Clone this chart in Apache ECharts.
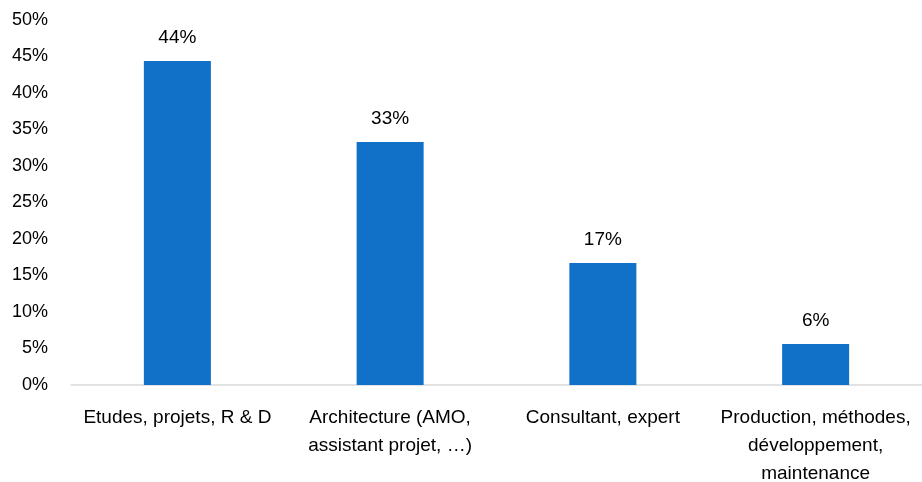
<!DOCTYPE html>
<html>
<head>
<meta charset="utf-8">
<script src="https://cdn.jsdelivr.net/npm/echarts@6/dist/echarts.min.js"></script>
<style>
  html, body { margin: 0; padding: 0; background: #fff; }
  #chart { width: 922px; height: 482px; }
</style>
</head>
<body>
<div id="chart"></div>
<script>
// données
var categories = [
    'Etudes, projets, R & D',
    'Architecture (AMO,\nassistant projet, …)',
    'Consultant, expert',
    'Production, méthodes,\ndéveloppement,\nmaintenance'
];
var values = [44.4, 33.3, 16.7, 5.6];
var yTicks = [0, 5, 10, 15, 20, 25, 30, 35, 40, 45, 50];

var font = 'Liberation Sans, Arial, sans-serif';
var myChart = echarts.init(document.getElementById('chart'));

myChart.setOption({
    animation: false,
    grid: { left: 71, right: 0, top: 20, bottom: 97, containLabel: false, outerBoundsMode: 'none' },
    xAxis: {
        type: 'category',
        data: categories,
        axisTick: { show: false },
        axisLine: { lineStyle: { color: '#d9d9d9', width: 1.5 } },
        axisLabel: {
            interval: 0,
            color: '#000',
            fontFamily: font,
            fontSize: 19,
            lineHeight: 28,
            margin: 19
        }
    },
    yAxis: {
        type: 'value',
        min: yTicks[0],
        max: yTicks[yTicks.length - 1],
        interval: 5,
        splitLine: { show: false },
        axisLine: { show: false },
        axisTick: { show: false },
        axisLabel: {
            color: '#000',
            fontFamily: font,
            fontSize: 18,
            margin: 23,
            formatter: function (v) { return v + '%'; }
        }
    },
    series: [{
        type: 'bar',
        data: values,
        barWidth: '31.5%',
        itemStyle: { color: '#1170c8' },
        label: {
            show: true,
            position: 'top',
            distance: 14,
            color: '#000',
            fontFamily: font,
            fontSize: 19,
            formatter: function (p) { return Math.round(p.value) + '%'; }
        }
    }]
});
</script>
</body>
</html>
